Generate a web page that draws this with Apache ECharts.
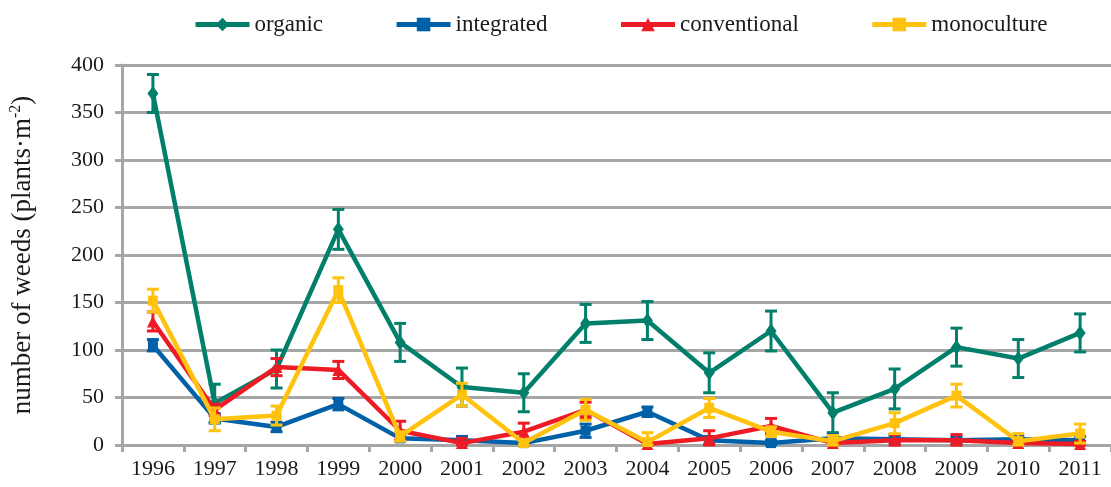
<!DOCTYPE html>
<html>
<head>
<meta charset="utf-8">
<script src="https://cdn.jsdelivr.net/npm/echarts@6/dist/echarts.min.js"></script>
<style>html,body{margin:0;padding:0;background:#fff}#c{width:1111px;height:487px}</style>
</head>
<body>
<div id="c"></div>
<script>
const years = ['1996','1997','1998','1999','2000','2001','2002','2003','2004','2005','2006','2007','2008','2009','2010','2011'];
const yTicks = [0, 50, 100, 150, 200, 250, 300, 350, 400];

const organic      = [370, 44, 80, 227, 108, 61, 55, 128, 131, 76, 120, 34, 59, 103, 91, 118];
const organicErr   = [20, 20, 20, 21, 20, 20, 20, 20, 20, 21, 21, 21, 21, 20, 20, 20];
const integrated   = [105, 28, 19, 43, 7, 5, 2, 15, 35, 5, 2, 7, 6, 5, 6, 5];
const integratedErr= [6, 5, 5, 6, 3, 4, 2, 7, 5, 4, 3, 4, 4, 4, 3, 4];
const conventional = [130, 37, 82, 79, 15, 2, 14, 37, 1, 7, 20, 2, 5, 5, 2, 1];
const conventionalErr = [10, 6, 9, 9, 10, 5, 9, 8, 3, 8, 8, 3, 6, 6, 3, 3];
const monoculture  = [152, 27, 31, 163, 9, 53, 2, 37, 3, 39, 14, 4, 23, 52, 4, 12];
const monocultureErr = [12, 12, 10, 13, 5, 12, 3, 11, 10, 10, 5, 6, 11, 12, 8, 10];

const names = ['organic', 'integrated', 'conventional', 'monoculture'];
const colors = ['#007f6b', '#0060a8', '#ed1c24', '#ffc20e'];
const symbols = ['diamond', 'rect', 'triangle', 'rect'];
const symbolSizes = [[11, 15], 10, 12, 10];
const values = [organic, integrated, conventional, monoculture];
const errs = [organicErr, integratedErr, conventionalErr, monocultureErr];

const FONT = '"Liberation Serif", "Times New Roman", serif';
const GRAY = '#a6a6a6';
const TXT = '#1a1a1a';

const series = [];
names.forEach((n, i) => {
  series.push({
    name: n,
    type: 'line',
    data: values[i],
    symbol: symbols[i],
    symbolSize: symbolSizes[i],
    showSymbol: true,
    lineStyle: { width: 4.5, color: colors[i] },
    itemStyle: { color: colors[i] },
    z: 2 + i * 2
  });
  const ed = values[i].map((v, k) => [k, Math.max(0, v - errs[i][k]), v + errs[i][k]]);
  series.push({
    name: n + ' error',
    type: 'custom',
    data: ed,
    z: 3 + i * 2,
    renderItem: function (params, api) {
      const x = api.value(0);
      const lo = api.coord([x, api.value(1)]);
      const hi = api.coord([x, api.value(2)]);
      const w = 6;
      const st = { stroke: colors[i], lineWidth: 3 };
      return {
        type: 'group',
        children: [
          { type: 'line', shape: { x1: lo[0], y1: lo[1], x2: hi[0], y2: hi[1] }, style: st },
          { type: 'line', shape: { x1: hi[0] - w, y1: hi[1], x2: hi[0] + w, y2: hi[1] }, style: st },
          { type: 'line', shape: { x1: lo[0] - w, y1: lo[1], x2: lo[0] + w, y2: lo[1] }, style: st }
        ]
      };
    },
    encode: { x: 0, y: [1, 2] }
  });
});

const chart = echarts.init(document.getElementById('c'), null, { renderer: 'canvas' });
chart.setOption({
  animation: false,
  backgroundColor: '#fff',
  legend: {
    data: names,
    top: 13,
    left: 193,
    padding: 0,
    itemGap: 71,
    itemWidth: 54,
    itemHeight: 17,
    lineStyle: { width: 5 },
    textStyle: { fontFamily: FONT, fontSize: 23, color: TXT }
  },
  grid: { left: 118, right: -5, top: 65, bottom: 42, containLabel: false },
  xAxis: {
    type: 'category',
    data: years,
    boundaryGap: true,
    axisLine: { lineStyle: { color: GRAY, width: 3 } },
    axisTick: { show: true, length: 7, lineStyle: { color: GRAY, width: 3 }, alignWithLabel: false },
    axisLabel: { fontFamily: FONT, fontSize: 22, color: TXT, margin: 13, interval: 0 },
    splitLine: { show: false }
  },
  yAxis: {
    type: 'value',
    min: 0, max: 400, interval: 50,
    name: '{a|number of weeds (plants·m}{s|-2}{a|)}',
    nameLocation: 'middle',
    nameGap: 85,
    nameRotate: 90,
    nameTextStyle: {
      rich: {
        a: { fontFamily: FONT, fontSize: 27, color: TXT },
        s: { fontFamily: FONT, fontSize: 16, color: TXT, verticalAlign: 'top', padding: [0, 0, 13, 0] }
      }
    },
    axisLine: { show: true, lineStyle: { color: GRAY, width: 3 } },
    axisTick: { show: true, length: 7, lineStyle: { color: GRAY, width: 3 } },
    axisLabel: { fontFamily: FONT, fontSize: 22, color: TXT, margin: 18 },
    splitLine: { show: true, lineStyle: { color: GRAY, width: 3 } }
  },
  series: series
});
</script>
</body>
</html>
